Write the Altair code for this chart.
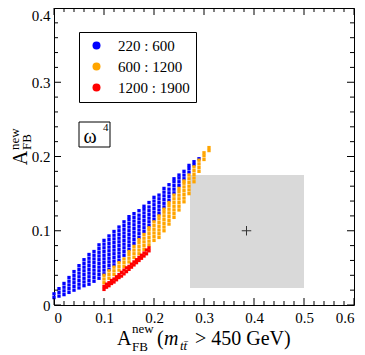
import altair as alt
import pandas as pd

# ---------------- data ----------------
series_names = ["220 : 600", "600 : 1200", "1200 : 1900"]
series_colors = ["#0000ff", "#ffa500", "#ff0000"]

# scan points, column x -> list of y values
blue_cols = {
    0.00: [0.010, 0.015],
    0.01: [0.012, 0.017, 0.022],
    0.02: [0.014, 0.019, 0.024, 0.029],
    0.03: [0.017, 0.022, 0.027, 0.032, 0.037],
    0.04: [0.020, 0.025, 0.030, 0.035, 0.040, 0.045],
    0.05: [0.023, 0.028, 0.033, 0.038, 0.043, 0.048, 0.053],
    0.06: [0.026, 0.031, 0.036, 0.041, 0.046, 0.051, 0.056, 0.061],
    0.07: [0.028, 0.033, 0.038, 0.043, 0.048, 0.053, 0.058, 0.063, 0.068],
    0.08: [0.032, 0.037, 0.042, 0.047, 0.052, 0.057, 0.062, 0.067, 0.072],
    0.09: [0.036, 0.041, 0.046, 0.051, 0.056, 0.061, 0.066, 0.071, 0.076, 0.081],
    0.10: [0.042, 0.047, 0.052, 0.057, 0.062, 0.067, 0.072, 0.077, 0.082, 0.087],
    0.11: [0.048, 0.053, 0.058, 0.063, 0.068, 0.073, 0.078, 0.083, 0.088, 0.093],
    0.12: [0.054, 0.059, 0.064, 0.069, 0.074, 0.079, 0.084, 0.089, 0.094, 0.099],
    0.13: [0.060, 0.065, 0.070, 0.075, 0.080, 0.085, 0.090, 0.095, 0.100, 0.105],
    0.14: [0.067, 0.072, 0.077, 0.082, 0.087, 0.092, 0.097, 0.102, 0.107, 0.112],
    0.15: [0.075, 0.080, 0.085, 0.090, 0.095, 0.100, 0.105, 0.110, 0.115, 0.119],
    0.16: [0.083, 0.088, 0.093, 0.098, 0.103, 0.108, 0.113, 0.118, 0.123],
    0.17: [0.091, 0.096, 0.101, 0.106, 0.111, 0.116, 0.121, 0.127],
    0.18: [0.099, 0.104, 0.109, 0.114, 0.119, 0.124, 0.129, 0.133],
    0.19: [0.107, 0.112, 0.117, 0.122, 0.127, 0.132, 0.138],
    0.20: [0.115, 0.120, 0.125, 0.130, 0.135, 0.140, 0.145],
    0.21: [0.123, 0.128, 0.133, 0.138, 0.143, 0.148],
    0.22: [0.132, 0.137, 0.142, 0.147, 0.152, 0.157],
    0.23: [0.141, 0.146, 0.151, 0.156, 0.162],
    0.24: [0.151, 0.156, 0.161, 0.166, 0.170],
    0.25: [0.161, 0.166, 0.171, 0.175],
    0.26: [0.170, 0.175, 0.180],
    0.27: [0.179, 0.184, 0.188],
    0.28: [0.189, 0.193],
    0.29: [0.197],
}

orange_cols = {
    0.10: [0.030, 0.035, 0.040],
    0.11: [0.036, 0.041, 0.046],
    0.12: [0.041, 0.046, 0.051],
    0.13: [0.047, 0.052, 0.057],
    0.14: [0.052, 0.057, 0.062],
    0.15: [0.058, 0.063, 0.068, 0.072],
    0.16: [0.064, 0.069, 0.074, 0.079],
    0.17: [0.069, 0.074, 0.079, 0.084, 0.088],
    0.18: [0.075, 0.080, 0.085, 0.090, 0.095],
    0.19: [0.081, 0.086, 0.091, 0.096, 0.101, 0.104],
    0.20: [0.087, 0.092, 0.097, 0.102, 0.107, 0.112],
    0.21: [0.091, 0.096, 0.101, 0.106, 0.111, 0.116, 0.120],
    0.22: [0.100, 0.105, 0.110, 0.115, 0.120, 0.125, 0.129],
    0.23: [0.109, 0.114, 0.119, 0.124, 0.129, 0.134, 0.138],
    0.24: [0.118, 0.123, 0.128, 0.133, 0.138, 0.143, 0.148],
    0.25: [0.128, 0.133, 0.138, 0.143, 0.148, 0.153, 0.157],
    0.26: [0.139, 0.144, 0.149, 0.154, 0.159, 0.164, 0.167],
    0.27: [0.150, 0.155, 0.160, 0.165, 0.170, 0.175],
    0.28: [0.166, 0.171, 0.176, 0.181, 0.186],
    0.29: [0.180, 0.185, 0.190, 0.195],
    0.30: [0.196, 0.201, 0.205],
    0.31: [0.208, 0.212],
}

red_cols = {
    0.100: [0.021, 0.025],
    0.105: [0.024, 0.028],
    0.110: [0.026, 0.030],
    0.115: [0.029, 0.033],
    0.120: [0.031, 0.035],
    0.125: [0.034, 0.038],
    0.130: [0.037, 0.041],
    0.135: [0.039, 0.044],
    0.140: [0.042, 0.047],
    0.145: [0.045, 0.050],
    0.150: [0.048, 0.052],
    0.155: [0.051, 0.055],
    0.160: [0.054, 0.058],
    0.165: [0.057, 0.061],
    0.170: [0.060, 0.064],
    0.175: [0.063, 0.067],
    0.180: [0.066, 0.070],
    0.185: [0.069, 0.074],
    0.190: [0.073, 0.077],
}

# experimental region (grey box) and central value
box_x = [0.272, 0.5]
box_y = [0.023, 0.175]
center_x = [0.385]
center_y = [0.1]

x_major = [0, 0.1, 0.2, 0.3, 0.4, 0.5, 0.6]
y_major = [0, 0.1, 0.2, 0.3, 0.4]
x_minor = [0.02, 0.04, 0.06, 0.08, 0.12, 0.14, 0.16, 0.18, 0.22, 0.24, 0.26, 0.28,
           0.32, 0.34, 0.36, 0.38, 0.42, 0.44, 0.46, 0.48, 0.52, 0.54, 0.56, 0.58]
y_minor = [0.02, 0.04, 0.06, 0.08, 0.12, 0.14, 0.16, 0.18, 0.22, 0.24, 0.26, 0.28,
           0.32, 0.34, 0.36, 0.38]

# ---------------- build ----------------
rows = []
for name, cols in zip(series_names, [blue_cols, orange_cols, red_cols]):
    for xv, ys in cols.items():
        for yv in ys:
            rows.append({"x": xv, "y": yv, "range": name})
pts = pd.DataFrame(rows)

W, H = 300, 297
OX, OY = 54, 8  # page position of plot origin
FONT = "Liberation Serif"

xs = alt.Scale(domain=[0, 0.6], nice=False, zero=False)
ys_ = alt.Scale(domain=[0, 0.4], nice=False, zero=False)
lbl = "datum.value == 0 ? '0' : format(datum.value, '.1f')"
xaxis = alt.Axis(values=x_major, labelExpr=lbl, title=None, ticks=False, tickSize=0,
                 domain=False, grid=False, labelFont=FONT, labelFontSize=15,
                 labelColor="black", labelPadding=5)
yaxis = alt.Axis(values=y_major, labelExpr=lbl, title=None, ticks=False, tickSize=0,
                 domain=False, grid=False, labelFont=FONT, labelFontSize=15,
                 labelColor="black", labelPadding=4,
                 labelBaseline=alt.ConditionalAxisString(
                     condition={"test": "datum.value >= 0.39", "value": "top"},
                     value="middle"))

box = alt.Chart(pd.DataFrame({"x0": [box_x[0]], "x1": [box_x[1]],
                              "y0": [box_y[0]], "y1": [box_y[1]]})).mark_rect(
    color="#d9d9d9").encode(
    x=alt.X("x0:Q", scale=xs, axis=xaxis), x2="x1:Q",
    y=alt.Y("y0:Q", scale=ys_, axis=yaxis), y2="y1:Q")

plus = alt.Chart(pd.DataFrame({"cx": center_x, "cy": center_y})).mark_point(
    shape="M-1,0L1,0M0,-1L0,1", size=90, filled=False, color="#333333",
    strokeWidth=1, opacity=1).encode(
    x=alt.X("cx:Q", scale=xs, axis=xaxis), y=alt.Y("cy:Q", scale=ys_, axis=yaxis))

scatter = alt.Chart(pts).mark_square(size=11, opacity=1).encode(
    x=alt.X("x:Q", scale=xs, axis=xaxis),
    y=alt.Y("y:Q", scale=ys_, axis=yaxis),
    color=alt.Color("range:N",
                    scale=alt.Scale(domain=series_names, range=series_colors),
                    legend=alt.Legend(title=None, orient="none", legendX=25, legendY=24,
                                      direction="vertical", symbolType="circle",
                                      symbolSize=64, symbolStrokeWidth=0,
                                      labelFont=FONT, labelFontSize=15,
                                      labelColor="black", strokeColor="black",
                                      fillColor="white", padding=6, rowPadding=5,
                                      symbolOffset=4, labelOffset=14)),
)


def tick_layers(vals, length):
    d = pd.DataFrame({"v": vals})
    b = alt.Chart(d).mark_rule(color="black", strokeWidth=1)
    return [
        b.encode(x=alt.X("v:Q", scale=xs, axis=xaxis), y=alt.value(H), y2=alt.value(H - length)),
        b.encode(x=alt.X("v:Q", scale=xs, axis=xaxis), y=alt.value(0), y2=alt.value(length)),
    ]


def ytick_layers(vals, length):
    d = pd.DataFrame({"v": vals})
    b = alt.Chart(d).mark_rule(color="black", strokeWidth=1)
    return [
        b.encode(y=alt.Y("v:Q", scale=ys_, axis=yaxis), x=alt.value(0), x2=alt.value(length)),
        b.encode(y=alt.Y("v:Q", scale=ys_, axis=yaxis), x=alt.value(W), x2=alt.value(W - length)),
    ]


ticks = (tick_layers(x_major, 7) + tick_layers(x_minor, 4)
         + ytick_layers(y_major, 7) + ytick_layers(y_minor, 4))

one = pd.DataFrame({"a": [0]})


def txt(s, px, py, size, align="left", baseline="alphabetic", angle=0, italic=False):
    kw = dict(text=s, font=FONT, fontSize=size, color="black", align=align,
              baseline=baseline, angle=angle)
    if italic:
        kw["fontStyle"] = "italic"
    return alt.Chart(one).mark_text(**kw).encode(x=alt.value(px - OX), y=alt.value(py - OY))


omega_box = alt.Chart(one).mark_rect(fill="white", stroke="black", strokeWidth=1).encode(
    x=alt.value(79 - OX), x2=alt.value(110 - OX), y=alt.value(122 - OY), y2=alt.value(147 - OY))

texts = [
    omega_box,
    txt("ω", 90, 143, 20, align="center"),
    txt("4", 103, 131, 11),
    # x title
    txt("A", 117, 345, 20),
    txt("new", 132, 333, 13),
    txt("FB", 132, 351, 13),
    txt("(", 157, 345, 20),
    txt("m", 164, 345, 20, italic=True),
    txt("tt\u0304", 180, 350, 13, italic=True),
    txt("> 450 GeV)", 195, 345, 20),
    # y title (rotated)
    txt("A", 27, 158, 20, align="center", angle=270),
    txt("new", 19, 150, 13, angle=270),
    txt("FB", 31, 150, 13, angle=270),
]

chart = alt.layer(box, plus, scatter, *ticks, *texts).properties(
    width=W, height=H,
    autosize=alt.AutoSizeParams(type="none"),
    padding={"left": 46, "top": 0, "right": 3, "bottom": 50},
).configure_view(stroke="black", strokeWidth=1).configure_axis(
    labelFont=FONT).configure_legend(labelFont=FONT)

chart.save("out.html", embed_options={"renderer": "svg", "actions": False})
